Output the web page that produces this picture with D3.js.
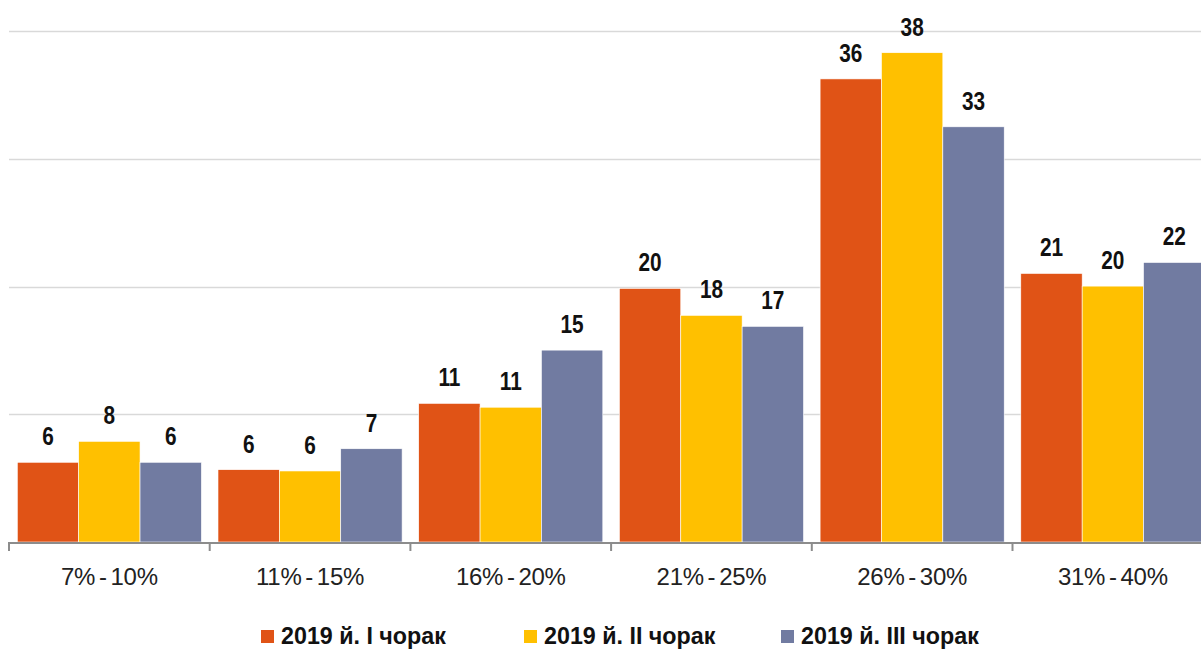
<!DOCTYPE html>
<html>
<head>
<meta charset="utf-8">
<script src="https://cdn.jsdelivr.net/npm/d3@7"></script>
<style>
  body { margin: 0; background: #fff; }
  svg { display: block; }
  .val { font-family: "Liberation Sans", Arial, sans-serif; font-weight: bold; font-size: 26px; fill: #111; }
  .cat { font-family: "Liberation Sans", Arial, sans-serif; font-size: 24px; fill: #222; word-spacing: -2.5px; letter-spacing: -0.3px; }
  .leg { font-family: "Liberation Sans", Arial, sans-serif; font-weight: bold; font-size: 24px; fill: #111; }
</style>
</head>
<body>
<div id="chart"></div>
<script>
// data
const categories = ["7% - 10%", "11% - 15%", "16% - 20%", "21% - 25%", "26% - 30%", "31% - 40%"];
const seriesNames = ["2019 й. I чорак", "2019 й. II чорак", "2019 й. III чорак"];
const q1Values = [6.24, 5.66, 10.85, 19.85, 36.25, 21.02];
const q2Values = [7.88, 5.56, 10.55, 17.74, 38.3, 20.03];
const q3Values = [6.24, 7.3, 15.02, 16.88, 32.5, 21.88];
const gridTicks = [0, 10, 20, 30, 40];

const colors = ["#e05316", "#ffc000", "#717ba1"];
const seriesValues = [q1Values, q2Values, q3Values];

// set dimensions
const width = 1201,
    height = 650;

const svg = d3.select("#chart")
    .append("svg")
    .attr("width", width)
    .attr("height", height);

// scales
const x = d3.scaleBand()
    .domain(categories)
    .range([9, 9 + 6 * 200.7])
    .padding(0);

const x1 = d3.scaleBand()
    .domain(d3.range(seriesNames.length))
    .range([8.3, x.bandwidth() - 8.3])
    .padding(0);

const y = d3.scaleLinear()
    .domain([0, 40])
    .range([542, 31]);

// gridlines
svg.append("g")
    .selectAll("line")
    .data(gridTicks.filter(d => d > 0))
    .enter()
    .append("line")
    .attr("x1", 9)
    .attr("x2", width)
    .attr("y1", d => Math.round(y(d)) + 0.5)
    .attr("y2", d => Math.round(y(d)) + 0.5)
    .attr("stroke", "#d9d9d9")
    .attr("stroke-width", 1.5);

// bars
const group = svg.append("g")
    .selectAll("g")
    .data(categories)
    .enter()
    .append("g")
    .attr("transform", d => `translate(${x(d)},0)`);

group.selectAll("rect")
    .data((d, i) => seriesValues.map((vals, s) => ({ s: s, v: vals[i] })))
    .enter()
    .append("rect")
    .attr("x", d => x1(d.s))
    .attr("y", d => y(d.v))
    .attr("width", x1.bandwidth())
    .attr("height", d => y(0) - y(d.v))
    .attr("fill", d => colors[d.s])
    .attr("stroke", "#fff")
    .attr("stroke-width", 0.6);

// value labels (squeezed to look like a narrow face)
group.selectAll("text")
    .data((d, i) => seriesValues.map((vals, s) => ({ s: s, v: vals[i] })))
    .enter()
    .append("text")
    .attr("class", "val")
    .attr("transform", d => `translate(${x1(d.s) + x1.bandwidth() / 2},${y(d.v) - 17}) scale(0.8,1)`)
    .attr("text-anchor", "middle")
    .text(d => Math.round(d.v));

// axis
const axis = svg.append("g")
    .attr("transform", `translate(0,${y(0) + 1})`);

axis.append("line")
    .attr("x1", 8)
    .attr("x2", width)
    .attr("stroke", "#8c8c8c")
    .attr("stroke-width", 2);

axis.selectAll(".tick")
    .data(categories)
    .enter()
    .append("line")
    .attr("x1", d => x(d))
    .attr("x2", d => x(d))
    .attr("y1", 0)
    .attr("y2", 8)
    .attr("stroke", "#8c8c8c")
    .attr("stroke-width", 2);

axis.selectAll("text")
    .data(categories)
    .enter()
    .append("text")
    .attr("class", "cat")
    .attr("x", d => x(d) + x.bandwidth() / 2)
    .attr("y", 42)
    .attr("text-anchor", "middle")
    .text(d => d);

// legend
const legendX = [261, 524, 781];
const legend = svg.append("g")
    .selectAll("g")
    .data(seriesNames)
    .enter()
    .append("g")
    .attr("transform", (d, i) => `translate(${legendX[i]},630)`);

legend.append("rect")
    .attr("width", 13)
    .attr("height", 13)
    .attr("fill", (d, i) => colors[i]);

legend.append("text")
    .attr("class", "leg")
    .attr("transform", "translate(20,14) scale(0.97,1)")
    .text(d => d);
</script>
</body>
</html>
